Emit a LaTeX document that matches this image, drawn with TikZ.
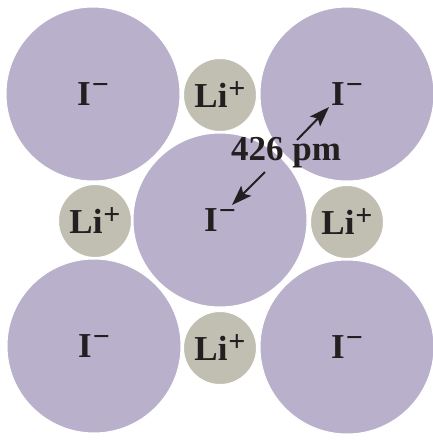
\documentclass[tikz,border=0pt]{standalone}
\usepackage{fontspec}
\setmainfont{Liberation Serif}
\usepackage{xcolor}
\usepackage{tikz}
\usetikzlibrary{arrows.meta,positioning,calc}
\definecolor{iodPurple}{HTML}{B9B0CC}
\definecolor{liGray}{HTML}{C1BFB2}
\definecolor{inkDark}{HTML}{231F20}
\newcommand{\ionsup}[2]{\kern1pt\raisebox{#1}{\fontsize{30}{32}\selectfont #2}}

\begin{document}
\begin{tikzpicture}[x=1pt,y=-1pt,
  iodide/.style={circle,fill=iodPurple,draw=white,line width=1pt,minimum size=174pt,inner sep=0pt,text=inkDark},
  lithium/.style={circle,fill=liGray,draw=white,line width=1pt,minimum size=73pt,inner sep=0pt,text=inkDark},
  ionfont/.style={font=\fontsize{35}{38}\selectfont\bfseries},
  arr/.style={-{Stealth[length=20pt,width=14pt,inset=4pt]},line width=2pt,draw=inkDark}]
\useasboundingbox (0,0) rectangle (433,440);
% large anions
\node[iodide,ionfont] (iTL) at (93,94) {I\ionsup{11pt}{−}};
\node[iodide,ionfont] (iTR) at (347,94) {I\ionsup{11pt}{−}};
\node[iodide,ionfont] (iBL) at (94,346) {I\ionsup{11pt}{−}};
\node[iodide,ionfont] (iBR) at (347,347) {I\ionsup{11pt}{−}};
\node[iodide,ionfont] (iC) at (220,220) {I\ionsup{11pt}{−}};
% small cations
\node[lithium,ionfont] (liT) at (220,95) {Li\ionsup{9pt}{+}};
\node[lithium,ionfont] (liL) at (95,221) {Li\ionsup{9pt}{+}};
\node[lithium,ionfont] (liR) at (347,222) {Li\ionsup{9pt}{+}};
\node[lithium,ionfont] (liB) at (220,348) {Li\ionsup{9pt}{+}};
% distance label
\node[ionfont,text=inkDark,inner sep=0pt] (dist) at (286,153) {426 pm};
\coordinate (tailUp) at (297,140);
\coordinate (tipUp) at (329,107);
\coordinate (tailDown) at (265,172);
\coordinate (tipDown) at (232,205);
\draw[arr] (tailUp) -- (tipUp);
\draw[arr] (tailDown) -- (tipDown);
\end{tikzpicture}
\end{document}
